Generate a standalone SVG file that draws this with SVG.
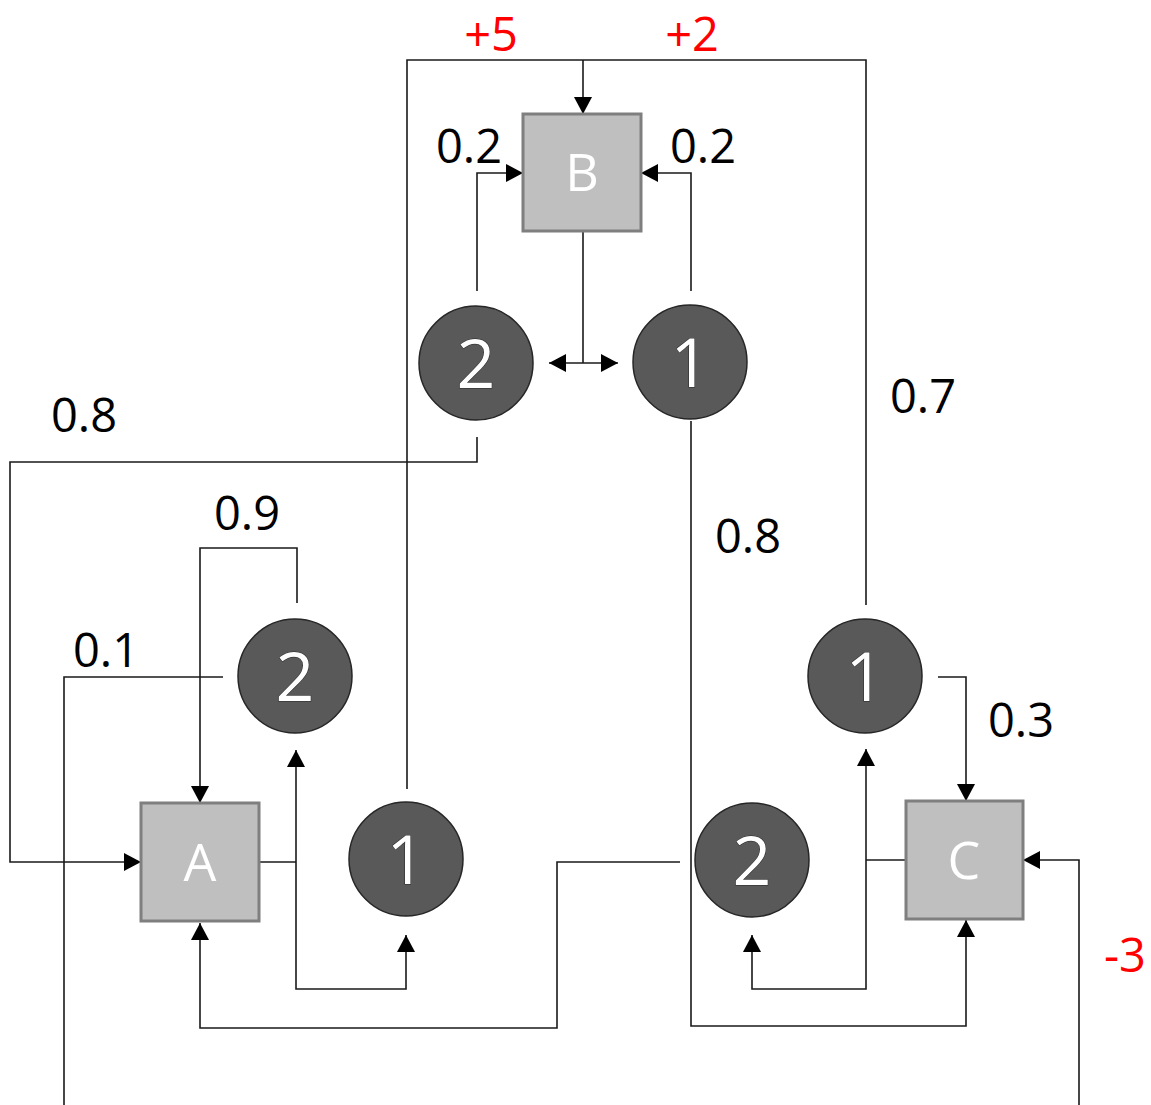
<svg xmlns="http://www.w3.org/2000/svg" width="1151" height="1105" viewBox="0 0 1151 1105">
<style>
.bg{fill:#ffffff}
.box{fill:#bfbfbf;stroke:#7f7f7f;stroke-width:3}
.circ{fill:#595959;stroke:#262626;stroke-width:1.5}
.bl{font-family:"Open Sans","DejaVu Sans",sans-serif;font-size:52px;fill:#ffffff;text-anchor:middle}
.cn{font-family:"Open Sans","DejaVu Sans",sans-serif;font-size:68px;fill:#ffffff;stroke:#262626;stroke-width:1;paint-order:stroke;text-anchor:middle}
.lb{font-family:"Open Sans","DejaVu Sans",sans-serif;font-size:47px;fill:#000000;text-anchor:middle}
.red{fill:#ff0000}
.ln{fill:none;stroke:#1a1a1a;stroke-width:1.6}
.ar{marker-end:url(#ah)}
</style>
<defs>
<marker id="ah" markerUnits="userSpaceOnUse" markerWidth="18" markerHeight="18" viewBox="0 0 18 18" refX="17" refY="9" orient="auto">
<path d="M0,0 L17,9 L0,18 Z" fill="#000000"/>
</marker>
</defs>
<rect class="bg" x="0" y="0" width="1151" height="1105"/>
<g id="connectors">
<path class="ln" d="M407,789 V60 H866 V605"/>
<path class="ln ar" d="M583,60 V114"/>
<path class="ln ar" d="M477,291 V173 H523"/>
<path class="ln ar" d="M691,291 V173 H641"/>
<path class="ln" d="M583,231 V363"/>
<path class="ln ar" d="M583,363 H549"/>
<path class="ln ar" d="M583,363 H618"/>
<path class="ln ar" d="M477,437 V462 H10 V862 H141"/>
<path class="ln ar" d="M297,603 V548 H200 V803"/>
<path class="ln" d="M223,677 H64 V1105"/>
<path class="ln" d="M259,862 H296"/>
<path class="ln ar" d="M296,862 V750"/>
<path class="ln ar" d="M296,862 V989 H406 V935"/>
<path class="ln ar" d="M680,862 H557 V1028 H200 V923"/>
<path class="ln ar" d="M938,677 H966 V801"/>
<path class="ln" d="M906,860 H866"/>
<path class="ln ar" d="M866,860 V749"/>
<path class="ln ar" d="M866,860 V989 H752 V935"/>
<path class="ln ar" d="M691,421 V1026 H966 V920"/>
<path class="ln ar" d="M1079,1105 V860 H1023"/>
</g>
<g id="nodeB"><rect class="box" x="523" y="114" width="118" height="117"/><text class="bl" x="582" y="191">B</text></g>
<g id="nodeA"><rect class="box" x="141" y="803" width="118" height="118"/><text class="bl" x="200" y="881">A</text></g>
<g id="nodeC"><rect class="box" x="906" y="801" width="117" height="118"/><text class="bl" x="964" y="879">C</text></g>
<g id="b2"><circle class="circ" cx="476" cy="363" r="57"/><text class="cn" x="476" y="388">2</text></g>
<g id="b1"><circle class="circ" cx="690" cy="362" r="57"/><text class="cn" x="690" y="387">1</text></g>
<g id="a2"><circle class="circ" cx="295" cy="676" r="57"/><text class="cn" x="295" y="701">2</text></g>
<g id="a1"><circle class="circ" cx="406" cy="859" r="57"/><text class="cn" x="406" y="884">1</text></g>
<g id="c2"><circle class="circ" cx="752" cy="860" r="57"/><text class="cn" x="752" y="885">2</text></g>
<g id="c1"><circle class="circ" cx="865" cy="676" r="57"/><text class="cn" x="865" y="701">1</text></g>
<g id="labels">
<text class="lb red" x="491" y="51">+5</text>
<text class="lb red" x="692" y="51">+2</text>
<text class="lb" x="469" y="163">0.2</text>
<text class="lb" x="703" y="163">0.2</text>
<text class="lb" x="84" y="432">0.8</text>
<text class="lb" x="923" y="413">0.7</text>
<text class="lb" x="247" y="530">0.9</text>
<text class="lb" x="748" y="553">0.8</text>
<text class="lb" x="106" y="667">0.1</text>
<text class="lb" x="1021" y="737">0.3</text>
<text class="lb red" x="1125" y="972">-3</text>
</g>
</svg>
